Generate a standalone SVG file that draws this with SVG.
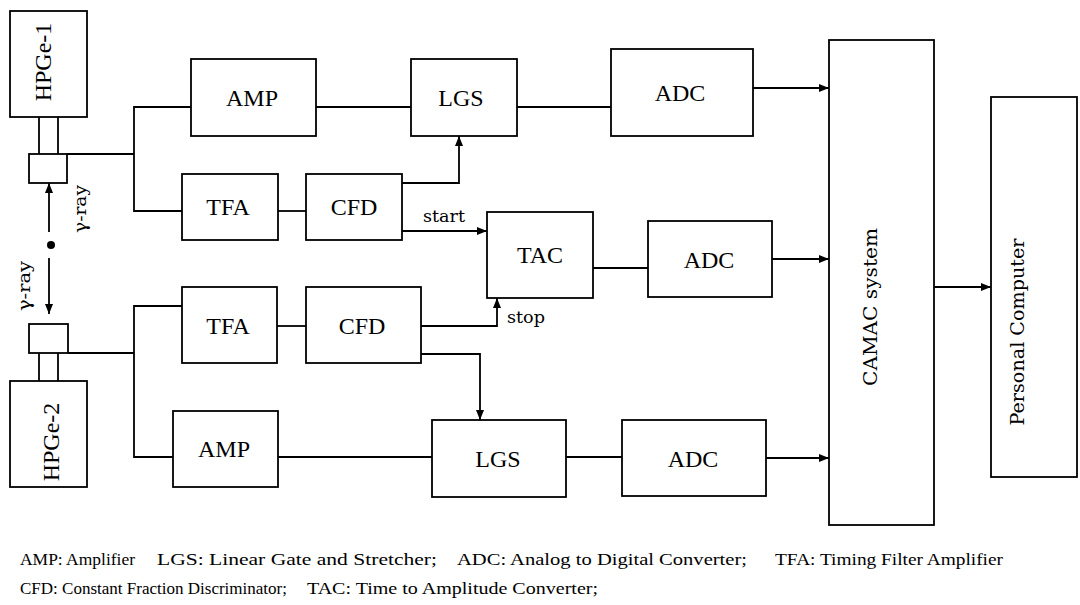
<svg xmlns="http://www.w3.org/2000/svg" width="1080" height="605" viewBox="0 0 1080 605">
<style>
.box{fill:#fff;stroke:#000;stroke-width:1.8}
.ln{fill:none;stroke:#000;stroke-width:1.8}
.lbl{font-family:"Liberation Serif","Times New Roman",serif;font-size:24px;fill:#000;text-anchor:middle}
.sm{font-family:"DejaVu Serif",serif;font-size:17px;fill:#000}
.big{font-family:"DejaVu Serif",serif;font-size:19px;fill:#000;text-anchor:middle}
.leg{font-family:"Liberation Serif","Times New Roman",serif;font-size:17.5px;fill:#000}
</style>
<defs>
<marker id="ar" markerUnits="userSpaceOnUse" markerWidth="11" markerHeight="10" refX="10" refY="4" orient="auto">
<path d="M0,0 L10,4 L0,8 z" fill="#000"/>
</marker>
</defs>
<rect width="1080" height="605" fill="#fff"/>
<g id="connectors">
<line class="ln" x1="39" y1="117" x2="39" y2="154"/>
<line class="ln" x1="58" y1="117" x2="58" y2="154"/>
<line class="ln" x1="39" y1="353" x2="39" y2="381"/>
<line class="ln" x1="58" y1="353" x2="58" y2="381"/>
<polyline class="ln" points="67,154 134,154"/>
<polyline class="ln" points="191,107 134,107 134,211 182,211"/>
<polyline class="ln" points="68,353 134,353"/>
<polyline class="ln" points="182,306 134,306 134,457 173,457"/>
<line class="ln" x1="49" y1="232" x2="49" y2="183" marker-end="url(#ar)"/>
<line class="ln" x1="49" y1="258" x2="49" y2="314" marker-end="url(#ar)"/>
<circle cx="51" cy="245" r="4" fill="#000"/>
<line class="ln" x1="316" y1="107" x2="411" y2="107"/>
<line class="ln" x1="517" y1="107" x2="611" y2="107"/>
<line class="ln" x1="753" y1="88" x2="829" y2="88" marker-end="url(#ar)"/>
<line class="ln" x1="278" y1="211" x2="306" y2="211"/>
<polyline class="ln" points="402,183 459,183 459,136" marker-end="url(#ar)"/>
<line class="ln" x1="402" y1="231" x2="487" y2="231" marker-end="url(#ar)"/>
<line class="ln" x1="593" y1="268" x2="648" y2="268"/>
<line class="ln" x1="772" y1="259" x2="829" y2="259" marker-end="url(#ar)"/>
<line class="ln" x1="277" y1="326" x2="306" y2="326"/>
<polyline class="ln" points="421,326 497,326 497,298" marker-end="url(#ar)"/>
<polyline class="ln" points="421,354 480,354 480,420" marker-end="url(#ar)"/>
<line class="ln" x1="278" y1="457" x2="432" y2="457"/>
<line class="ln" x1="566" y1="457" x2="622" y2="457"/>
<line class="ln" x1="766" y1="458" x2="829" y2="458" marker-end="url(#ar)"/>
<line class="ln" x1="934" y1="287" x2="991" y2="287" marker-end="url(#ar)"/>
<text class="sm" x="423" y="222" textLength="42" lengthAdjust="spacingAndGlyphs">start</text>
<text class="sm" x="507" y="323" textLength="38" lengthAdjust="spacingAndGlyphs">stop</text>
<text class="sm" transform="translate(86,209) rotate(-90)" text-anchor="middle" textLength="48" lengthAdjust="spacingAndGlyphs">γ-ray</text>
<text class="sm" transform="translate(30,286) rotate(-90)" text-anchor="middle" textLength="50" lengthAdjust="spacingAndGlyphs">γ-ray</text>
</g>
<g id="hpge1">
<rect class="box" x="10" y="11" width="77" height="106"/>
<rect class="box" x="29" y="154" width="38" height="29"/>
<text class="lbl" transform="translate(51,62) rotate(-90)">HPGe-1</text>
</g>
<g id="hpge2">
<rect class="box" x="10" y="381" width="77" height="106"/>
<rect class="box" x="29" y="324" width="39" height="29"/>
<text class="lbl" transform="translate(59,442) rotate(-90)">HPGe-2</text>
</g>
<g id="amp1"><rect class="box" x="191" y="59" width="125" height="77"/><text class="lbl" x="252" y="106">AMP</text></g>
<g id="lgs1"><rect class="box" x="411" y="59" width="106" height="77"/><text class="lbl" x="461" y="106">LGS</text></g>
<g id="adc1"><rect class="box" x="611" y="49" width="142" height="87"/><text class="lbl" x="680" y="101">ADC</text></g>
<g id="tfa1"><rect class="box" x="182" y="174" width="96" height="66"/><text class="lbl" x="228" y="215">TFA</text></g>
<g id="cfd1"><rect class="box" x="306" y="174" width="96" height="66"/><text class="lbl" x="354" y="215">CFD</text></g>
<g id="tac"><rect class="box" x="487" y="212" width="106" height="86"/><text class="lbl" x="540" y="263">TAC</text></g>
<g id="adc2"><rect class="box" x="648" y="221" width="124" height="76"/><text class="lbl" x="709" y="268">ADC</text></g>
<g id="tfa2"><rect class="box" x="182" y="287" width="95" height="76"/><text class="lbl" x="228" y="334">TFA</text></g>
<g id="cfd2"><rect class="box" x="306" y="287" width="115" height="76"/><text class="lbl" x="362" y="334">CFD</text></g>
<g id="amp2"><rect class="box" x="173" y="411" width="105" height="76"/><text class="lbl" x="224" y="457">AMP</text></g>
<g id="lgs2"><rect class="box" x="432" y="420" width="134" height="77"/><text class="lbl" x="498" y="467">LGS</text></g>
<g id="adc3"><rect class="box" x="622" y="420" width="144" height="76"/><text class="lbl" x="693" y="467">ADC</text></g>
<g id="camac"><rect class="box" x="829" y="40" width="105" height="485"/><text class="big" transform="translate(877,307) rotate(-90)" textLength="158" lengthAdjust="spacingAndGlyphs">CAMAC system</text></g>
<g id="pc"><rect class="box" x="991" y="97" width="86" height="380"/><text class="big" transform="translate(1024,332) rotate(-90)" textLength="187" lengthAdjust="spacingAndGlyphs">Personal Computer</text></g>
<g id="legend">
<text class="leg" x="20" y="565" textLength="115" lengthAdjust="spacingAndGlyphs">AMP: Amplifier</text>
<text class="leg" x="157" y="565" textLength="280" lengthAdjust="spacingAndGlyphs">LGS: Linear Gate and Stretcher;</text>
<text class="leg" x="457" y="565" textLength="290" lengthAdjust="spacingAndGlyphs">ADC: Analog to Digital Converter;</text>
<text class="leg" x="775" y="565" textLength="228" lengthAdjust="spacingAndGlyphs">TFA: Timing Filter Amplifier</text>
<text class="leg" x="20" y="594" textLength="267" lengthAdjust="spacingAndGlyphs">CFD: Constant Fraction Discriminator;</text>
<text class="leg" x="307" y="594" textLength="291" lengthAdjust="spacingAndGlyphs">TAC: Time to Amplitude Converter;</text>
</g>
</svg>
